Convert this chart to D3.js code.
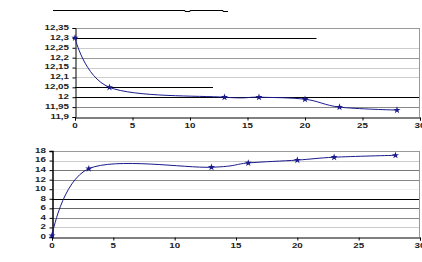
<!DOCTYPE html>
<html>
<head>
<meta charset="utf-8">
<script src="https://cdn.jsdelivr.net/npm/d3@7"></script>
<style>
  html, body { margin: 0; padding: 0; background: #fff; }
  svg { display: block; }
  .tick-label { font-family: "Liberation Sans", Arial, sans-serif; font-size: 7px; font-weight: bold; fill: #222; }
</style>
</head>
<body>
<div id="chart"></div>
<script>
// data
const times = [0, 3, 13, 16, 20, 23, 28];
const topValues = [12.3, 12.05, 12.0, 12.0, 11.99, 11.95, 11.935];
const bottomValues = [0.3, 14.3, 14.6, 15.5, 16.1, 16.7, 17.1];

const xTicks = [0, 5, 10, 15, 20, 25, 30];
const topTicks = [11.9, 11.95, 12, 12.05, 12.1, 12.15, 12.2, 12.25, 12.3, 12.35];
const topLabels = ["11,9", "11,95", "12", "12,05", "12,1", "12,15", "12,2", "12,25", "12,3", "12,35"];
const bottomTicks = [0, 2, 4, 6, 8, 10, 12, 14, 16, 18];

// gridline look per tick (the scan made them uneven)
const topGridStyle = {
  12.35: {color: "#999", to: 30},
  12.3: {color: "#000", to: 21},
  12.25: {color: "#ccc", to: 30},
  12.2: {color: "#999", to: 30},
  12.15: {color: "#ccc", to: 30},
  12.1: {color: "#ccc", to: 30},
  12.05: {color: "#000", to: 12},
  12: {color: "#000", to: 30},
  11.95: {color: "#888", to: 30}
};
const bottomGridStyle = {
  18: "#999", 16: "#ccc", 14: "#777", 12: "#888", 10: "#eee",
  8: "#000", 6: "#666", 4: "#888", 2: "#ccc"
};

const width = 422, height = 262;
const navy = "#1a1a8c";

const svg = d3.select("#chart").append("svg")
    .attr("width", width)
    .attr("height", height);

function drawPanel(opts) {
  const x = d3.scaleLinear().domain([0, 30]).range([opts.left, 420]);
  const y = d3.scaleLinear().domain(opts.yDomain).range([opts.bottom, opts.top]);
  const g = svg.append("g");

  // gridlines
  opts.yTicks.forEach(t => {
    if (t === opts.yDomain[0]) return;
    const st = opts.gridStyle(t);
    g.append("line")
      .attr("x1", x(0)).attr("x2", x(st.to))
      .attr("y1", Math.round(y(t)) + 0.5).attr("y2", Math.round(y(t)) + 0.5)
      .attr("stroke", st.color).attr("stroke-width", 1);
  });

  // right border
  g.append("line")
    .attr("x1", x(30) - 0.5).attr("x2", x(30) - 0.5)
    .attr("y1", Math.round(y(opts.yDomain[1])) + 0.5).attr("y2", y(opts.yDomain[0]))
    .attr("stroke", "#999");

  // y axis
  const yAxis = g.append("g")
    .attr("transform", `translate(${Math.round(x(0)) + 0.5},0)`)
    .call(d3.axisLeft(y).tickValues(opts.yTicks).tickSize(3).tickFormat(""));
  yAxis.select(".domain").attr("stroke", "#000").attr("stroke-width", opts.axisWidth);
  opts.yTicks.forEach((t, i) => {
    g.append("text")
      .attr("class", "tick-label")
      .attr("text-anchor", "end")
      .attr("dominant-baseline", "central")
      .attr("transform", `translate(${x(0) - 6},${y(t)}) scale(1.4,0.9)`)
      .text(opts.yLabels[i]);
  });

  // x axis
  const xAxis = g.append("g")
    .attr("transform", `translate(0,${Math.round(y(opts.yDomain[0])) + 0.5})`)
    .call(d3.axisBottom(x).tickValues(xTicks).tickSize(3).tickFormat(""));
  xAxis.select(".domain").attr("stroke", "#000");
  xTicks.forEach(t => {
    g.append("text")
      .attr("class", "tick-label")
      .attr("text-anchor", "middle")
      .attr("transform", `translate(${x(t)},${y(opts.yDomain[0]) + 11}) scale(1.4,0.9)`)
      .text(t);
  });

  // series
  const pts = times.map((t, i) => [t, opts.values[i]]);
  g.append("path")
    .datum(pts)
    .attr("fill", "none")
    .attr("stroke", navy)
    .attr("stroke-width", 1)
    .attr("d", d3.line()
      .x(d => x(d[0]))
      .y(d => y(d[1]))
      .curve(d3.curveCardinal.tension(0)));

  g.selectAll(".mark")
    .data(pts)
    .join("path")
      .attr("class", "mark")
      .attr("transform", d => `translate(${x(d[0])},${y(d[1])})`)
      .attr("d", d3.symbol(d3.symbolStar, 16))
      .attr("fill", navy);
}

// title line (the scan lost the title text)
svg.append("path")
  .attr("d", "M53,10.5H185v1H190v-1H223v1H228")
  .attr("fill", "none")
  .attr("stroke", "#000");

drawPanel({
  left: 75, top: 28, bottom: 117,
  yDomain: [11.9, 12.35],
  yTicks: topTicks,
  yLabels: topLabels,
  values: topValues,
  axisWidth: 1,
  gridStyle: t => topGridStyle[t] || {color: "#ccc", to: 30}
});

drawPanel({
  left: 52, top: 151, bottom: 237,
  yDomain: [0, 18],
  yTicks: bottomTicks,
  yLabels: bottomTicks.map(String),
  values: bottomValues,
  axisWidth: 1.5,
  gridStyle: t => ({color: bottomGridStyle[t] || "#ccc", to: 30})
});
</script>
</body>
</html>
